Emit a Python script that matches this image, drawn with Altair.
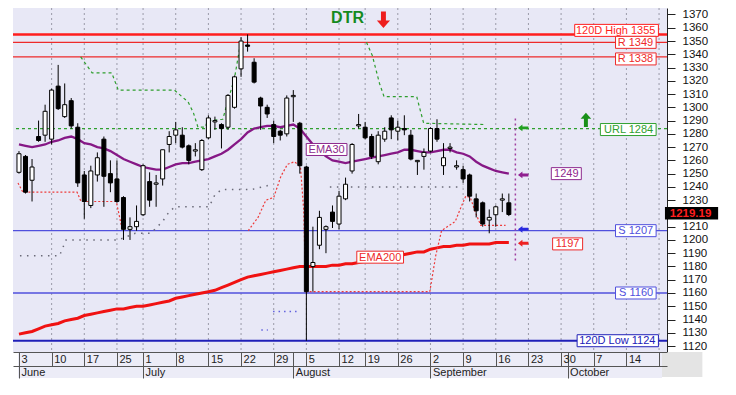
import altair as alt
import pandas as pd

# ---------------- data ----------------
days = list(range(76))
opens = [1251,1263,1245,1278,1279,1276,1316,1293,1305,1285,
         1249,1226,1249,1276,1250,1246,1232,1208,1210,1219,
         1244,1242,1246,1272,1279,1279,1271,1267,1253,1277,
         1289,1287,1285,1300,1329,1347,1334,1307,1300,1287,
         1282,1280,1308,1288,1255,1180,1196,1208,1221,1212,
         1231,1252,1286,1285,1278,1259,1276,1292,1282,1284,
         1279,1259,1263,1267,1284,1256,1269,1255,1253,1249,
         1231,1228,1215,1219,1230,1228]
closes = [1265,1236,1255,1275,1297,1313,1299,1302,1286,1243,
          1229,1252,1262,1248,1243,1229,1208,1210,1214,1256,
          1230,1243,1268,1278,1283,1270,1260,1268,1275,1292,
          1290,1284,1309,1323,1350,1346,1319,1301,1295,1278,
          1279,1307,1309,1256,1161,1183,1217,1210,1214,1233,
          1242,1272,1287,1277,1263,1279,1282,1283,1285,1283,
          1261,1260,1266,1284,1276,1262,1270,1256,1246,1233,
          1222,1212,1217,1225,1231,1219.19]
highs = [1267,1264,1261,1290,1302,1314,1332,1318,1307,1288,
         1252,1256,1266,1278,1260,1260,1233,1217,1226,1257,
         1251,1249,1268,1282,1289,1285,1272,1273,1276,1294,
         1293,1288,1310,1324,1353,1355,1337,1308,1302,1290,
         1283,1309,1313,1289,1256,1210,1222,1211,1226,1237,
         1247,1273,1295,1289,1280,1282,1285,1294,1290,1294,
         1283,1260,1269,1285,1291,1273,1273,1260,1256,1250,
         1235,1229,1223,1226,1235,1235]
lows = [1250,1235,1229,1274,1274,1272,1298,1292,1284,1240,
        1216,1224,1244,1225,1236,1228,1200,1200,1207,1218,
        1225,1225,1241,1266,1273,1269,1257,1263,1252,1276,
        1283,1269,1283,1299,1323,1342,1318,1283,1292,1273,
        1275,1278,1289,1250,1124,1161,1193,1190,1209,1208,
        1230,1250,1284,1276,1261,1257,1274,1276,1275,1279,
        1260,1249,1253,1266,1274,1249,1266,1253,1243,1229,
        1217,1210,1205,1210,1221,1218]
ema30 = [1272,1271,1270,1271,1272,1274,1275,1277,1278,1276,
         1273,1272,1270,1269,1267,1264,1261,1259,1257,1255,
         1254,1253,1253,1255,1257,1258,1258,1259,1260,1261,
         1263,1265,1268,1272,1276,1281,1284,1285,1286,1286,
         1285,1286,1287,1284,1278,1272,1267,1263,1260,1259,
         1258,1259,1260,1261,1262,1263,1264,1265,1266,1268,
         1268,1267,1266,1266,1267,1268,1268,1266,1265,1263,
         1259,1256,1254,1252,1251,1250]
ema200 = [1129,1130,1131,1133,1135,1136,1137,1139,1140,1141,
          1143,1144,1145,1146,1147,1148,1148,1149,1150,1150,
          1151,1152,1153,1154,1156,1157,1158,1159,1160,1161,
          1162,1164,1166,1168,1170,1172,1173,1174,1175,1176,
          1177,1178,1179,1180,1180,1180,1180,1180,1181,1181,
          1182,1182,1183,1184,1185,1186,1187,1187,1188,1189,
          1190,1191,1191,1193,1194,1195,1195,1196,1196,1197,
          1197,1197,1197,1198,1198,1198]

green_a_d = [9.45, 11.2, 14.2, 15.2, 23.8, 25.9, 26.7, 27.4, 28.5, 28.9, 31.2, 32.0, 33.0, 33.8, 34.1]
green_a_p = [1338, 1326, 1326, 1313, 1313, 1304, 1296, 1285, 1285, 1290, 1291, 1305, 1322, 1345, 1349]
green_b_d = [53.2, 54.1, 55.2, 55.9, 60.9, 61.96, 71.5]
green_b_p = [1349, 1339, 1318, 1308, 1308, 1288, 1287]
red_a_d = [-0.15, 0.6, 8.9, 9.5, 14.9, 15.5, 15.8]
red_a_p = [1243, 1236, 1236, 1229, 1229, 1215, 1208]
red_b_d = [35.1, 36.6, 37.8, 39.0, 40.1, 41.1, 42.2, 43.1, 43.6, 43.9, 62.9, 63.8, 64.7,
           66.8, 67.7, 68.4, 69.1, 69.95, 70.7, 74.5]
red_b_p = [1207, 1217, 1230, 1232, 1248, 1257, 1259, 1255, 1222, 1161, 1161, 1188, 1207,
           1214, 1225, 1233, 1232, 1220, 1211, 1211]
gray_a_d = [0.15, 6.2, 7.2, 15.2, 17.8, 20.2, 22.0, 23.1, 24.0, 29.1, 30.0, 31.0, 35.6, 38.1]
gray_a_p = [1188, 1188, 1200, 1200, 1205, 1205, 1214, 1222, 1225, 1225, 1234, 1238, 1238, 1241]
gray_b_d = [47.6, 68.0]
gray_b_p = [1240, 1240]
blue_a_d = [38.9, 43.1]
blue_a_p = [1146, 1146]
blue_b_d = [37.1, 38.1]
blue_b_p = [1132, 1132]

level_prices = [1355, 1349, 1338, 1284, 1207, 1160, 1124]
level_names = ["120D High 1355", "R 1349", "R 1338", "URL 1284", "S 1207", "S 1160", "120D Low 1124"]

day_ticks = [0, 5, 10, 15, 19, 24, 29, 34, 39, 42, 44, 49, 53, 58, 63, 68, 73, 78, 83, 84, 88, 93, 98]
day_labels = ["3", "10", "17", "25", "1", "8", "15", "22", "29", "", "5", "12", "19", "26",
              "2", "9", "16", "23", "30", "", "7", "14", ""]
month_ticks = [0, 19, 42, 63, 84]
month_labels = ["June", "July", "August", "September", "October"]
week_grid = [5, 10, 15, 19, 24, 29, 34, 39, 44, 49, 53, 58, 63, 68, 73, 78, 83, 88, 93, 98]
price_ticks = [v for v in range(1120, 1371, 10) if v != 1220]   # 1220 sits under the last-price box

last_close = 1219.19
ema30_last = 1249
ema200_last = 1197
marker_day = 76
marker_top, marker_bottom = 1292, 1184.5

# ---------------- geometry / style ----------------
W, H = 654, 344
X0, X1 = -0.15, 98.45
Y0, Y1 = 1115.5, 1374.9
PX = W / (X1 - X0)          # px per day
PP = (Y1 - Y0) / H          # price per px
FONT = "Liberation Sans"

xs = alt.Scale(domain=[X0, X1], nice=False, zero=False)
ys = alt.Scale(domain=[Y0, Y1], nice=False, zero=False)


def tw(s, size=11):
    w = 0.0
    for ch in s:
        if ch.isdigit():
            w += 0.556
        elif ch == " ":
            w += 0.278
        elif ch in "il":
            w += 0.222
        elif ch.isupper():
            w += 0.70
        else:
            w += 0.556
    return w * size


def X(field="d", axis=None):
    return alt.X(f"{field}:Q", scale=xs, axis=axis)


def Y(field="p", axis=None):
    return alt.Y(f"{field}:Q", scale=ys, axis=axis)


day_expr = "[" + ",".join(f"'{s}'" for s in day_labels) + "][indexof([" + \
    ",".join(str(v) for v in day_ticks) + "], datum.value)]"
month_expr = "[" + ",".join(f"'{s}'" for s in month_labels) + "][indexof([" + \
    ",".join(str(v) for v in month_ticks) + "], datum.value)]"

day_axis = alt.Axis(values=day_ticks, labelExpr=day_expr, orient="bottom", tickSize=14,
                    tickColor="#555", domainColor="#555", labelAlign="left",
                    labelBaseline="middle", labelPadding=-7, labelOffset=2, labelFontSize=11,
                    labelFont=FONT, labelColor="#222", grid=False, zindex=1, title=None,
                    labelOverlap=False, labelFlush=False)
month_axis = alt.Axis(values=month_ticks, labelExpr=month_expr, orient="bottom", offset=14,
                      tickSize=12, tickColor="#555", domainColor="#555", labelAlign="left",
                      labelBaseline="middle", labelPadding=-6, labelOffset=2, labelFontSize=11,
                      labelFont=FONT, labelColor="#222", grid=False, zindex=1, title=None,
                      labelOverlap=False, labelFlush=False)
y_axis = alt.Axis(orient="right", values=price_ticks, format="d", tickSize=8,
                  tickColor="#222", domainColor="#222", labelFontSize=11.5, labelFont=FONT,
                  labelColor="#111", labelPadding=7, grid=False, title=None, labelOverlap=False,
                  labelFlush=False)

layers = []

# axis rows background and grey corner
bg = pd.DataFrame({"x1": [X0, X1], "x2": [X1, X1 + 41 / PX],
                   "y1": [Y0, Y0], "y2": [Y0 - 26 * PP, Y0 - 25 * PP],
                   "col": ["#ECECF7", "#E4E4E4"]})
layers.append(alt.Chart(bg).mark_rect().encode(
    x=X("x1"), x2="x2", y=Y("y1"), y2="y2", fill=alt.Fill("col:N", scale=None)))

# vertical dotted grid
gdf = pd.DataFrame({"d": week_grid})
layers.append(alt.Chart(gdf).mark_rule(color="#9a9aa8", strokeDash=[2, 3], strokeWidth=1).encode(x=X()))

# level lines
lv = pd.DataFrame({"p": level_prices, "name": level_names})
sty = {
    "120D High 1355": ("#FF1E1E", 2.5, 0, -4),
    "R 1349": ("#EE2A2A", 1.3, 0, 0),
    "R 1338": ("#EE2A2A", 1.3, 0, 2),
    "URL 1284": ("#2FA02F", 1.3, 1, 1),
    "S 1207": ("#5050DD", 1.3, 0, 0),
    "S 1160": ("#5050DD", 1.3, 0, 0),
    "120D Low 1124": ("#2020B8", 2.2, 0, 0),
}
lv["col"] = [sty[n][0] for n in level_names]
lv["w"] = [sty[n][1] for n in level_names]
solid = lv[[sty[n][2] == 0 for n in level_names]]
dashed = lv[[sty[n][2] == 1 for n in level_names]]
layers.append(alt.Chart(solid).mark_rule().encode(
    y=Y(), color=alt.Color("col:N", scale=None), strokeWidth=alt.StrokeWidth("w:Q", scale=None)))
layers.append(alt.Chart(dashed).mark_rule(strokeDash=[3, 3]).encode(
    y=Y(), color=alt.Color("col:N", scale=None), strokeWidth=alt.StrokeWidth("w:Q", scale=None)))

# EMA200
edf = pd.DataFrame({"d": days, "p": ema200})
layers.append(alt.Chart(edf).mark_line(color="#F01212", strokeWidth=3).encode(x=X(), y=Y()))


def seg_df(pairs):
    rows = []
    for k, (dd, pp) in enumerate(pairs):
        for a, b in zip(dd, pp):
            rows.append({"d": a, "p": b, "s": k})
    return pd.DataFrame(rows)


gray = seg_df([(gray_a_d, gray_a_p), (gray_b_d, gray_b_p)])
layers.append(alt.Chart(gray).mark_line(color="#6a6a78", strokeDash=[1.5, 5.5], strokeWidth=1.5).encode(
    x=X(), y=Y(), detail="s:N"))
blue = seg_df([(blue_a_d, blue_a_p), (blue_b_d, blue_b_p)])
layers.append(alt.Chart(blue).mark_line(color="#6060DD", strokeDash=[1.5, 4], strokeWidth=1.5).encode(
    x=X(), y=Y(), detail="s:N"))
red = seg_df([(red_a_d, red_a_p), (red_b_d, red_b_p)])
layers.append(alt.Chart(red).mark_line(color="#EE3A3A", strokeDash=[2, 2], strokeWidth=1.2).encode(
    x=X(), y=Y(), detail="s:N"))
green = seg_df([(green_a_d, green_a_p), (green_b_d, green_b_p)])
layers.append(alt.Chart(green).mark_line(color="#2E9E2E", strokeDash=[3, 3], strokeWidth=1.2).encode(
    x=X(), y=Y(), detail="s:N"))

# EMA30
e30 = pd.DataFrame({"d": days, "p": ema30})
layers.append(alt.Chart(e30).mark_line(color="#861886", strokeWidth=2.3).encode(x=X(), y=Y()))

# vertical marker
mk = pd.DataFrame({"d": [marker_day], "p": [marker_bottom], "p2": [marker_top]})
layers.append(alt.Chart(mk).mark_rule(color="#A040A0", strokeDash=[2, 3], strokeWidth=1.5).encode(
    x=X(), y=Y(), y2="p2:Q"))

# candles
cdf = pd.DataFrame({"d": days, "o": opens, "h": highs, "l": lows, "c": closes})
layers.append(alt.Chart(cdf).mark_rule(color="black", strokeWidth=1).encode(
    x=X("d", day_axis), y=Y("l", y_axis), y2="h:Q"))
layers.append(alt.Chart(cdf).mark_bar(size=4, stroke="black", strokeWidth=1).encode(
    x=X(), y=Y("o"), y2="c:Q",
    fill=alt.condition("datum.c >= datum.o", alt.value("white"), alt.value("black"))))

# label boxes
boxes = []
for n, p in zip(level_names, level_prices):
    col, _, _, shift = sty[n]
    right = 97.9 if n.startswith("120D") else 97.55
    w = tw(n) + 6
    cy = p - shift * PP
    boxes.append({"t": n, "x1": right - w / PX, "x2": right, "xt": right - 3 / PX,
                  "y1": cy - 6 * PP, "y2": cy + 6 * PP, "yt": cy, "col": col, "al": "right"})
centered = [("EMA30", 47.1, 1268.2, "#8E2A8E"), ("EMA200", 55.3, 1187, "#EE2A2A"),
            (str(ema30_last), 83.8, ema30_last + 1, "#8E2A8E"), (str(ema200_last), 84.0, ema200_last, "#EE2A2A")]
for t, cx, cy, col in centered:
    w = tw(t) + 6
    boxes.append({"t": t, "x1": cx - w / 2 / PX, "x2": cx + w / 2 / PX, "xt": cx,
                  "y1": cy - 6 * PP, "y2": cy + 6 * PP, "yt": cy, "col": col, "al": "center"})
bdf = pd.DataFrame(boxes)
layers.append(alt.Chart(bdf).mark_rect(fill="white", strokeWidth=1).encode(
    x=X("x1"), x2="x2", y=Y("y1"), y2="y2", stroke=alt.Stroke("col:N", scale=None)))
layers.append(alt.Chart(bdf[bdf.al == "right"]).mark_text(align="right", baseline="middle", font=FONT,
                                                           fontSize=11, dy=0.5).encode(
    x=X("xt"), y=Y("yt"), text="t:N", color=alt.Color("col:N", scale=None)))
layers.append(alt.Chart(bdf[bdf.al == "center"]).mark_text(align="center", baseline="middle", font=FONT,
                                                            fontSize=11, dy=0.5).encode(
    x=X("xt"), y=Y("yt"), text="t:N", color=alt.Color("col:N", scale=None)))

# arrows
LEFT = "M -1 0 L -0.15 -0.65 L -0.15 -0.28 L 1 -0.28 L 1 0.28 L -0.15 0.28 L -0.15 0.65 Z"
UP = "M 0 -1 L -0.75 -0.15 L -0.28 -0.15 L -0.28 1 L 0.28 1 L 0.28 -0.15 L 0.75 -0.15 Z"
DOWN = "M 0 1 L -0.8 0.1 L -0.3 0.1 L -0.3 -1 L 0.3 -1 L 0.3 0.1 L 0.8 0.1 Z"
arr = pd.DataFrame({
    "d": [77.2, 77.2, 77.2, 77.2, 86.8, 55.8],
    "p": [1284.5, ema30_last, 1208, ema200_last + 0.5, 1290.5, 1366.0],
    "shape": [LEFT, LEFT, LEFT, LEFT, UP, DOWN],
    "col": ["#22A022", "#902090", "#2A2AE0", "#EE2222", "#189018", "#EE1E1E"],
    "sz": [110, 110, 110, 110, 200, 270],
})
layers.append(alt.Chart(arr).mark_point(filled=True, opacity=1, strokeWidth=0).encode(
    x=X(), y=Y(), shape=alt.Shape("shape:N", scale=None), color=alt.Color("col:N", scale=None),
    size=alt.Size("sz:Q", scale=None)))

# DTR
dtr = pd.DataFrame({"d": [50.3], "p": [1367.4], "t": ["DTR"]})
layers.append(alt.Chart(dtr).mark_text(font=FONT, fontSize=16, fontWeight="bold", color="#158A1E",
                                       baseline="middle").encode(x=X(), y=Y(), text="t:N"))

# last price box on the axis (drawn a pixel above the close, as in the reference)
box_mid = last_close + 1.2 * PP
pb = pd.DataFrame({"x1": [X1 + 3 / PX], "x2": [X1 + 57 / PX], "xt": [X1 + 29 / PX],
                   "y1": [box_mid - 6.2 * PP], "y2": [box_mid + 6.2 * PP], "p": [box_mid],
                   "t": [f"{last_close:.2f}"]})
layers.append(alt.Chart(pb).mark_rect(fill="black").encode(x=X("x1"), x2="x2", y=Y("y1"), y2="y2"))
layers.append(alt.Chart(pb).mark_text(font=FONT, fontSize=11.5, fontWeight="bold", color="#FF1E1E",
                                      baseline="middle", dy=0.5).encode(x=X("xt"), y=Y("p"), text="t:N"))

# month axis carrier
mdf = pd.DataFrame({"d": month_ticks})
layers.append(alt.Chart(mdf).mark_point(opacity=0).encode(x=X("d", month_axis), y=alt.value(0)))

chart = alt.layer(*layers).resolve_axis(x="independent", y="independent").properties(
    width=W, height=H, autosize=alt.AutoSizeParams(type="none"),
    padding={"left": 5, "top": 0, "right": 60, "bottom": 40},
    background="white",
).configure_view(fill="#E8E8F6", strokeWidth=0)

chart.save("out.html", embed_options={"renderer": "svg", "actions": False})
